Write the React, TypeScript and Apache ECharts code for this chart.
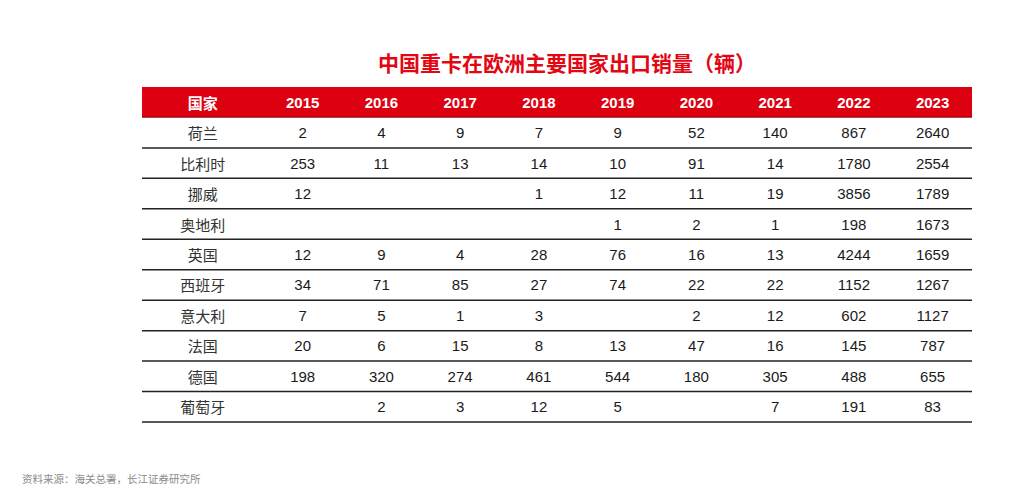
import React, { useEffect, useRef } from "react";
import * as echarts from "echarts";

const title = "中国重卡在欧洲主要国家出口销量（辆）";
const source = "资料来源：海关总署，长江证券研究所";
const headerLabel = "国家";
const years = ["2015", "2016", "2017", "2018", "2019", "2020", "2021", "2022", "2023"];
const countries = ["荷兰", "比利时", "挪威", "奥地利", "英国", "西班牙", "意大利", "法国", "德国", "葡萄牙"];

const v2015 = [2, 253, 12, null, 12, 34, 7, 20, 198, null];
const v2016 = [4, 11, null, null, 9, 71, 5, 6, 320, 2];
const v2017 = [9, 13, null, null, 4, 85, 1, 15, 274, 3];
const v2018 = [7, 14, 1, null, 28, 27, 3, 8, 461, 12];
const v2019 = [9, 10, 12, 1, 76, 74, null, 13, 544, 5];
const v2020 = [52, 91, 11, 2, 16, 22, 2, 47, 180, null];
const v2021 = [140, 14, 19, 1, 13, 22, 12, 16, 305, 7];
const v2022 = [867, 1780, 3856, 198, 4244, 1152, 602, 145, 488, 191];
const v2023 = [2640, 2554, 1789, 1673, 1659, 1267, 1127, 787, 655, 83];

const yearValues = [v2015, v2016, v2017, v2018, v2019, v2020, v2021, v2022, v2023];

const FIRST_COL = 1.54;
const X_MAX = FIRST_COL + years.length;
const RED = "#dc0010";
const LATIN = "'Liberation Sans', Arial, 'Noto Sans CJK SC', sans-serif";
const CJK = "'Noto Sans CJK SC', 'Liberation Sans', sans-serif";

export default function App() {
  const ref = useRef<HTMLDivElement>(null);
  useEffect(() => {
    if (!ref.current) return;
    const chart = echarts.init(ref.current, null, { renderer: "svg" });
    const rowLabels = [headerLabel, ...countries];
    const xCenters = [FIRST_COL / 2, ...years.map((_, i) => FIRST_COL + 0.5 + i)];

    chart.setOption({
      animation: false,
      backgroundColor: "#ffffff",
      grid: { left: 142, right: 54, top: 87, bottom: 64 },
      xAxis: { type: "value", min: 0, max: X_MAX, show: false },
      yAxis: { type: "category", data: rowLabels, inverse: true, show: false },
      graphic: [
        {
          type: "text",
          x: 567,
          y: 62,
          style: {
            text: title,
            fill: "#e30613",
            font: `bold 21px ${CJK}`,
            textAlign: "center",
            textVerticalAlign: "middle",
          },
        },
        {
          type: "text",
          x: 22,
          y: 478,
          style: {
            text: source,
            fill: "#8a8a8a",
            font: `10.5px ${CJK}`,
            textAlign: "left",
            textVerticalAlign: "middle",
          },
        },
      ],
      series: [
        {
          type: "custom",
          coordinateSystem: "cartesian2d",
          encode: { x: 0, y: 1 },
          data: rowLabels.map((_, i) => [0, i]),
          renderItem: (params: any, api: any) => {
            const r = api.value(1);
            const p0 = api.coord([0, r]);
            const p1 = api.coord([X_MAX, r]);
            const h = api.size([0, 1])[1];
            const yc = p0[1];
            const children: any[] = [];
            const isHeader = r === 0;
            if (isHeader) {
              children.push({
                type: "rect",
                shape: { x: p0[0], y: yc - h / 2, width: p1[0] - p0[0], height: h },
                style: { fill: RED },
              });
              children.push({
                type: "line",
                shape: { x1: p0[0], y1: yc + h / 2 - 0.5, x2: p1[0], y2: yc + h / 2 - 0.5 },
                style: { stroke: "#8a0008", lineWidth: 1 },
              });
            }
            const cells = isHeader
              ? [headerLabel, ...years]
              : [countries[r - 1], ...yearValues.map((arr) => {
                  const v = arr[r - 1];
                  return v === null || v === undefined ? "" : String(v);
                })];
            cells.forEach((t, c) => {
              if (!t) return;
              const x = api.coord([xCenters[c], r])[0];
              const cjk = c === 0;
              children.push({
                type: "text",
                x,
                y: yc,
                style: {
                  text: t,
                  fill: isHeader ? "#ffffff" : cjk ? "#333333" : "#1a1a1a",
                  font: `${isHeader ? "bold " : ""}15px ${cjk ? CJK : LATIN}`,
                  textAlign: "center",
                  textVerticalAlign: "middle",
                },
              });
            });
            if (!isHeader) {
              children.push({
                type: "line",
                shape: { x1: p0[0], y1: yc + h / 2, x2: p1[0], y2: yc + h / 2 },
                style: { stroke: "#222222", lineWidth: 1.5 },
              });
            }
            return { type: "group", children };
          },
        },
      ],
    });
    return () => chart.dispose();
  }, []);
  return (
    <div
      ref={ref}
      style={{ position: "fixed", left: 0, top: 0, width: 1026, height: 486, background: "#fff" }}
    />
  );
}
